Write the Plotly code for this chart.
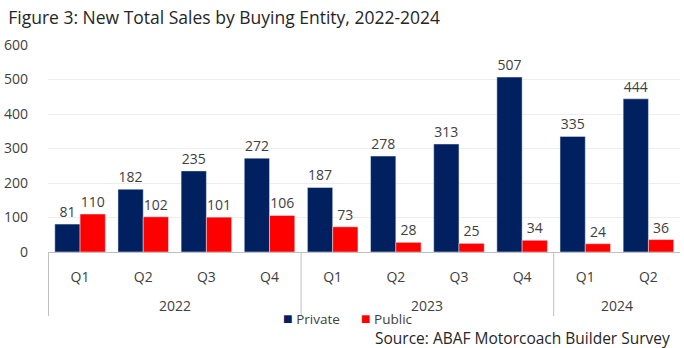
import plotly.graph_objects as go

years = ["2022"] * 4 + ["2023"] * 4 + ["2024"] * 2
quarters = ["Q1", "Q2", "Q3", "Q4", "Q1", "Q2", "Q3", "Q4", "Q1", "Q2"]
private = [81, 182, 235, 272, 187, 278, 313, 507, 335, 444]
public = [110, 102, 101, 106, 73, 28, 25, 34, 24, 36]

FONT = "Open Sans"
TXT = "#404040"
NAVY = "#002060"
RED = "#FF0000"
RULE = "#BFBFBF"

# one unique category per year/quarter pair, labelled by quarter only
cats = [f"{y} {q}" for y, q in zip(years, quarters)]

fig = go.Figure()
fig.add_trace(go.Bar(
    x=cats, y=private, name="Private",
    marker_color=NAVY, text=private, textposition="outside",
    textfont=dict(size=14, color=TXT, family=FONT), cliponaxis=False,
))
fig.add_trace(go.Bar(
    x=cats, y=public, name="Public",
    marker_color=RED, text=public, textposition="outside",
    textfont=dict(size=14, color=TXT, family=FONT), cliponaxis=False,
))

PLOT_H = 348 - 45 - 96


def py(px_below_axis):
    """paper y for a distance in pixels below the x axis"""
    return -px_below_axis / PLOT_H


# year group labels and the vertical dividers between groups
annotations = []
shapes = []
groups = []
for i, y in enumerate(years):
    if not groups or groups[-1][0] != y:
        groups.append([y, i, i])
    else:
        groups[-1][2] = i
for y, start, end in groups:
    annotations.append(dict(text=y, x=(start + end) / 2, xref="x", y=py(53), yref="paper",
                            showarrow=False, xanchor="center", yanchor="middle",
                            font=dict(size=14, color=TXT, family=FONT)))
    shapes.append(dict(type="line", xref="x", yref="paper", x0=start - 0.5, x1=start - 0.5,
                       y0=0, y1=py(64), line=dict(color=RULE, width=1)))

# legend drawn as a single line of text with coloured squares
legend_text = (f"<span style='color:{NAVY};font-size:16px'>■</span> Private"
               f"      <span style='color:{RED};font-size:16px'>■</span> Public")
annotations.append(dict(text=legend_text, xref="paper", yref="paper", x=(345 - 43) / 637,
                        y=py(66), xanchor="center", yanchor="middle", showarrow=False,
                        font=dict(size=13.5, color=TXT, family=FONT)))
annotations.append(dict(text="Source: ABAF Motorcoach Builder Survey", xref="paper", yref="paper",
                        x=(672 - 43) / 637, y=py(85.5), xanchor="right", yanchor="middle",
                        showarrow=False, font=dict(size=15.5, color="#262626", family=FONT)))

fig.update_layout(
    width=684, height=348,
    margin=dict(l=43, r=4, t=45, b=96),
    paper_bgcolor="white", plot_bgcolor="white",
    barmode="group", bargap=0.2, bargroupgap=0,
    font=dict(family=FONT, size=14, color=TXT),
    showlegend=False,
    title=dict(text="Figure 3: New Total Sales by Buying Entity, 2022-2024",
               x=0.012, xanchor="left", y=0.95, yanchor="middle",
               font=dict(size=17.5, color="#262626", family=FONT)),
    annotations=annotations,
    shapes=shapes,
)
fig.update_yaxes(range=[0, 600], dtick=100, showgrid=True, gridcolor="#EDEDED",
                 zeroline=False, showline=False, tickfont=dict(size=14, color=TXT),
                 ticks="", ticklabelstandoff=19)
fig.update_xaxes(type="category", tickvals=cats, ticktext=quarters, showline=True,
                 linecolor=RULE, ticks="", showgrid=False, tickfont=dict(size=14, color=TXT),
                 ticklabelstandoff=12)

fig.write_html("out.html")
